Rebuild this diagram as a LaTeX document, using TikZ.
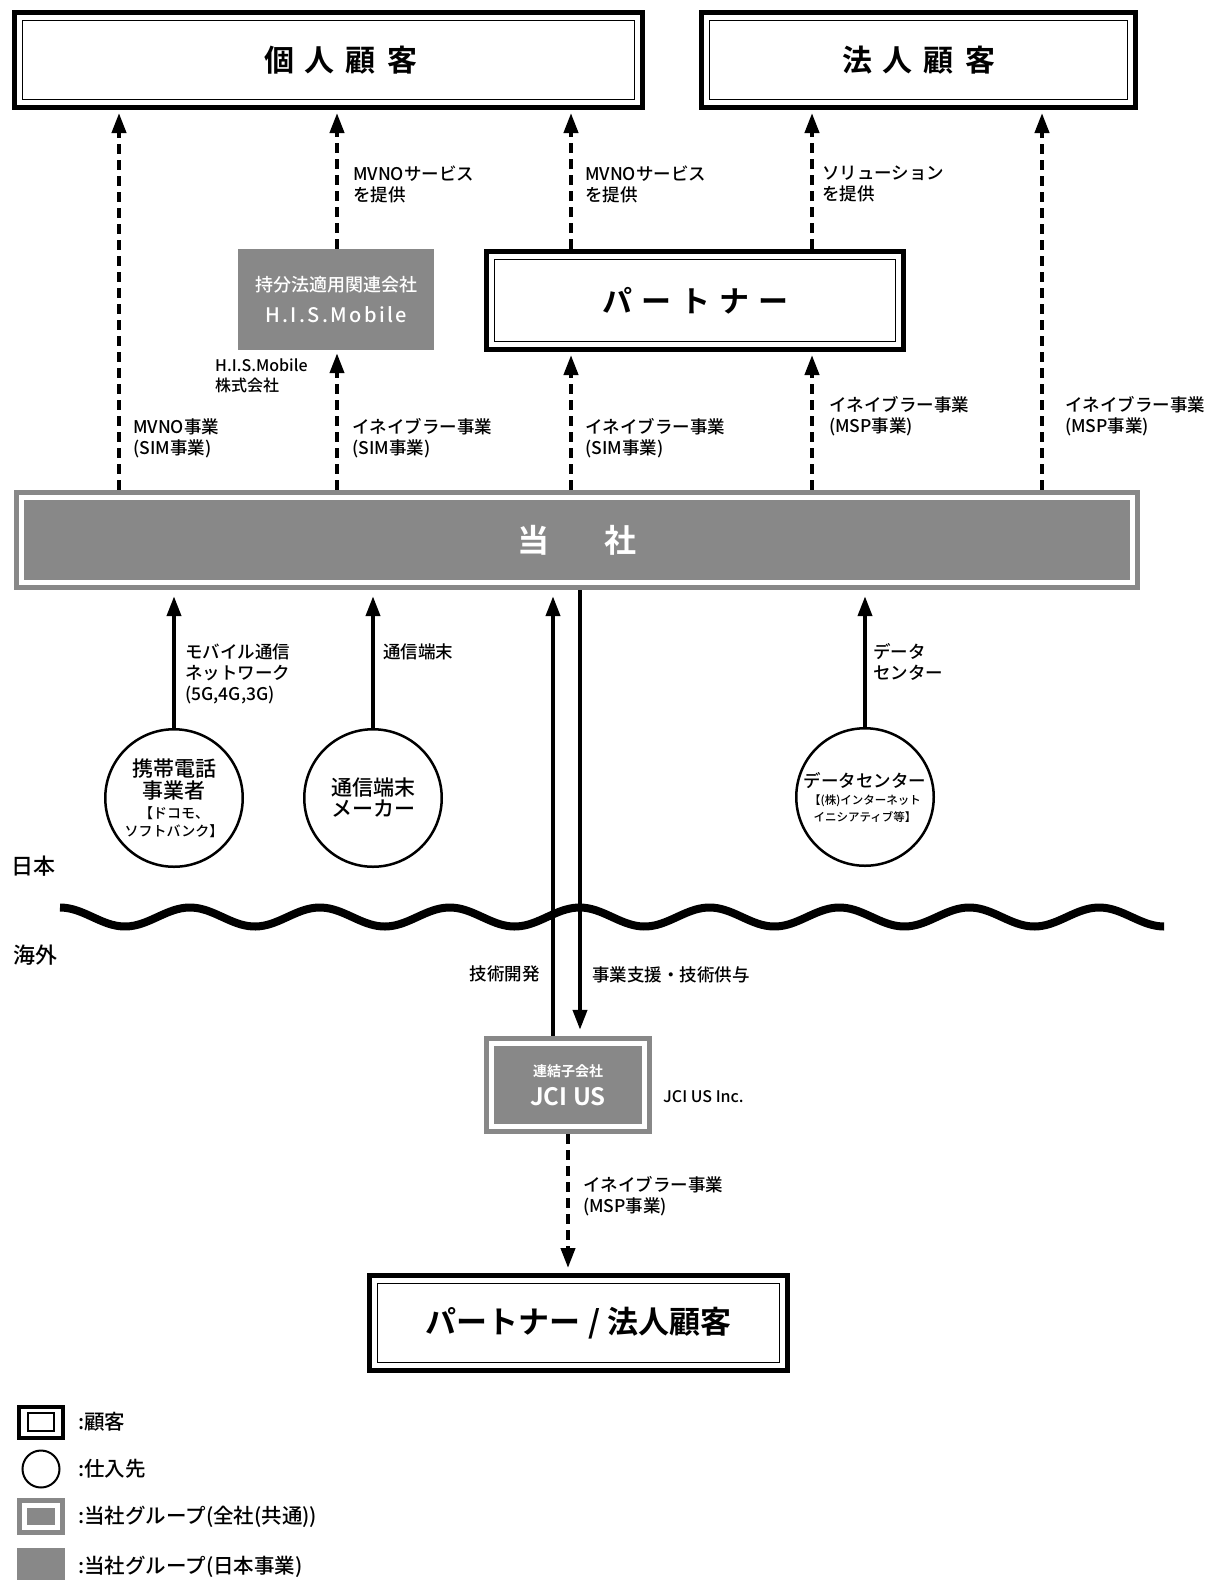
\documentclass[tikz,border=0pt]{standalone}
\usepackage{fontspec}
\setmainfont{Noto Sans CJK JP}[UprightFont={* Medium}, BoldFont={* Bold}]
\usetikzlibrary{arrows.meta}
\definecolor{grp}{RGB}{136,136,136}
\tikzset{
  custbox/.style={draw, line width=5pt, inner sep=0pt, font=\bfseries\fontsize{30}{30}\selectfont},
  grpbox/.style={fill=grp, inner sep=0pt, text=white},
  supcirc/.style={circle, draw, line width=2.5pt, minimum size=137.5pt, inner sep=0pt, align=center},
  lbl/.style={inner sep=0pt, align=left, font=\fontsize{17.5}{21}\selectfont},
  dasharr/.style={line width=4pt, dash pattern=on 10pt off 6pt, -{Triangle[length=20pt,width=14pt]}, shorten >=3pt},
  solarr/.style={line width=4pt, -{Triangle[length=20pt,width=14pt]}},
}

\begin{document}
\begin{tikzpicture}[x=1pt, y=-1pt]
\useasboundingbox (0,0) rectangle (1216,1580);
% Customers
\node[custbox, minimum width=628pt, minimum height=95pt] (kojin) at (328.5,60) {\hspace{24pt}個\hspace{11pt}人\hspace{11pt}顧\hspace{11pt}客};
\node[custbox, minimum width=434pt, minimum height=95pt] (hojin) at (918.5,60) {法\hspace{11pt}人\hspace{11pt}顧\hspace{11pt}客};
\node[custbox, minimum width=417pt, minimum height=98pt] (partner) at (695,300.5) {パ\hspace{9pt}ー\hspace{9pt}ト\hspace{9pt}ナ\hspace{9pt}ー};
\node[custbox, minimum width=418pt, minimum height=95pt, font=\bfseries\fontsize{31}{31}\selectfont] (pcust) at (578.5,1323) {パートナー / 法人顧客};
\foreach \n in {kojin,hojin,partner,pcust}
  \draw[line width=1.5pt] ([shift={(10.5,10.5)}]\n.north west) rectangle ([shift={(-10.5,-10.5)}]\n.south east);
% Group companies
\node[grpbox, minimum width=196pt, minimum height=101pt, align=center, font=\fontsize{18}{31}\selectfont] (his) at (336,299.5)
  {持分法適用関連会社\\{\fontsize{20}{31}\selectfont\addfontfeatures{LetterSpace=12}H.I.S.Mobile}};
\node[grpbox, minimum width=1126pt, minimum height=100pt, font=\bfseries\fontsize{32}{32}\selectfont] (tosha) at (577,540) {当\hspace{55pt}社};
\node[grpbox, minimum width=168pt, minimum height=98pt, align=center, font=\bfseries\fontsize{14}{29}\selectfont] (jci) at (568,1085)
  {連結子会社\\{\fontsize{24}{29}\selectfont JCI US}};
\foreach \n in {tosha,jci}
  \draw[white, line width=5pt] ([shift={(7.5,7.5)}]\n.north west) rectangle ([shift={(-7.5,-7.5)}]\n.south east);
% Suppliers
\node[supcirc, font=\fontsize{21}{22}\selectfont] (mob) at (174,798)
  {携帯電話\\事業者\\[-2pt]{\fontsize{14}{17}\selectfont 【ドコモ、}\\[-4pt]{\fontsize{14}{17}\selectfont ソフトバンク】}};
\node[supcirc, font=\fontsize{21}{21}\selectfont] (dev) at (373,798) {通信端末\\メーカー};
\node[supcirc, font=\fontsize{17.5}{17}\selectfont] (dc) at (865,797)
  {データセンター\\{\fontsize{11.5}{17}\selectfont 【(株)インターネット}\\{\fontsize{11.5}{17}\selectfont イニシアティブ等】}};
% Columns
\coordinate (c1) at (119,0);
\coordinate (c2) at (337,0);
\coordinate (c3) at (571,0);
\coordinate (c4) at (812,0);
\coordinate (c5) at (1042,0);
\coordinate (c6) at (568,0);
\coordinate (up) at (553,0);
\coordinate (dn) at (580,0);
% Border Japan / overseas
\draw[line width=8pt] plot[domain=0:8.5, samples=300, smooth] ({60+129.9*\x}, {917-9.5*cos(360*\x)});
\node[inner sep=0pt, font=\fontsize{22}{22}\selectfont] (jp) at (33,866) {日本};
\node[inner sep=0pt, font=\fontsize{22}{22}\selectfont] (ov) at (35,955) {海外};
% Edges
\draw[dasharr] (c1 |- tosha.north) -- (c1 |- kojin.south);
\draw[dasharr] (c2 |- tosha.north) -- (c2 |- his.south);
\draw[dasharr] (c2 |- his.north) -- (c2 |- kojin.south);
\draw[dasharr] (c3 |- tosha.north) -- (c3 |- partner.south);
\draw[dasharr] (c3 |- partner.north) -- (c3 |- kojin.south);
\draw[dasharr] (c4 |- tosha.north) -- (c4 |- partner.south);
\draw[dasharr] (c4 |- partner.north) -- (c4 |- hojin.south);
\draw[dasharr] (c5 |- tosha.north) -- (c5 |- hojin.south);
\draw[solarr, shorten >=6pt] (mob) -- (mob |- tosha.south);
\draw[solarr, shorten >=6pt] (dev) -- (dev |- tosha.south);
\draw[solarr, shorten >=6pt] (dc) -- (dc |- tosha.south);
\draw[solarr, shorten >=6pt] (up |- jci.north) -- (up |- tosha.south);
\draw[solarr, shorten >=6pt] (dn |- tosha.south) -- (dn |- jci.north);
\draw[dasharr, shorten >=5pt] (c6 |- jci.south) -- (c6 |- pcust.north);
% Labels
\node[lbl, anchor=north west] (l1) at (133,419) {MVNO事業\\(SIM事業)};
\node[lbl, anchor=north west] (l2) at (352,418) {イネイブラー事業\\(SIM事業)};
\node[lbl, anchor=north west] (l3) at (585,418) {イネイブラー事業\\(SIM事業)};
\node[lbl, anchor=north west] (l4) at (829,396) {イネイブラー事業\\(MSP事業)};
\node[lbl, anchor=north west] (l5) at (1065,396) {イネイブラー事業\\(MSP事業)};
\node[lbl, anchor=north west] (s2) at (353,166) {MVNOサービス\\を提供};
\node[lbl, anchor=north west] (s3) at (585,166) {MVNOサービス\\を提供};
\node[lbl, anchor=north west] (s4) at (822,166) {ソリューション\\を提供};
\node[lbl, anchor=north west, font=\fontsize{16}{20}\selectfont] (hisname) at (215,359) {H.I.S.Mobile\\株式会社};
\node[lbl, anchor=north west] (m1) at (185,644) {モバイル通信\\ネットワーク\\(5G,4G,3G)};
\node[lbl, anchor=north west] (m2) at (383,644) {通信端末};
\node[lbl, anchor=north west] (m3) at (873,643) {データ\\センター};
\node[lbl, anchor=north east] (t1) at (540,966) {技術開発};
\node[lbl, anchor=north west] (t2) at (592,966) {事業支援・技術供与};
\node[lbl, anchor=west, font=\fontsize{16}{20}\selectfont] (jciname) at (663,1097) {JCI US Inc.};
\node[lbl, anchor=north west] (t3) at (583,1176) {イネイブラー事業\\(MSP事業)};
% Legend
\node[draw, line width=4pt, minimum width=44pt, minimum height=31pt, inner sep=0pt] (legcust) at (41,1422.5) {};
\draw[line width=2pt] ([shift={(11,8)}]legcust.north west) rectangle ([shift={(-11,-9)}]legcust.south east);
\node[circle, draw, line width=2pt, minimum size=37pt, inner sep=0pt] (legsup) at (41,1469) {};
\node[grpbox, minimum width=48pt, minimum height=37pt] (leggrp) at (41,1516.5) {};
\draw[white, line width=5pt] ([shift={(8,8)}]leggrp.north west) rectangle ([shift={(-8,-8)}]leggrp.south east);
\node[grpbox, minimum width=48pt, minimum height=34pt] (legjp) at (41,1565) {};
\node[lbl, anchor=west, font=\fontsize{20.5}{24}\selectfont] (tcust) at (78,1422) {:顧客};
\node[lbl, anchor=west, font=\fontsize{20.5}{24}\selectfont] (tsup) at (78,1469) {:仕入先};
\node[lbl, anchor=west, font=\fontsize{20.5}{24}\selectfont] (tgrp) at (78,1517) {:当社グループ(全社(共通))};
\node[lbl, anchor=west, font=\fontsize{20.5}{24}\selectfont] (tjp) at (78,1567) {:当社グループ(日本事業)};
\end{tikzpicture}
\end{document}
